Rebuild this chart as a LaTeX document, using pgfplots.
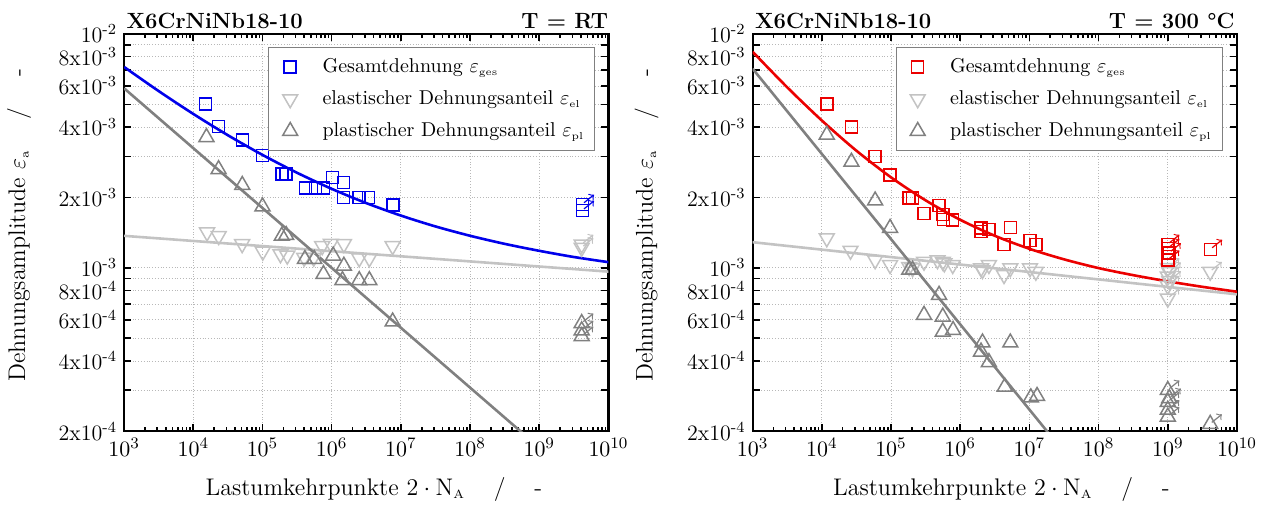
\documentclass[border=0pt]{standalone}
\usepackage{pgfplots}
\pgfplotsset{compat=1.18}

\definecolor{cblue}{RGB}{0,0,235}
\definecolor{cred}{RGB}{235,0,0}
\definecolor{clgray}{RGB}{195,195,195}
\definecolor{cdgray}{RGB}{128,128,128}

\pgfdeclareplotmark{runarrow}{%
  \pgfsetarrowsend{to}%
  \pgfpathmoveto{\pgfqpoint{0.8pt}{0.8pt}}%
  \pgfpathlineto{\pgfqpoint{5.8pt}{4.8pt}}%
  \pgfusepath{stroke}%
}

\tikzset{
  gesmark/.style={only marks, mark=square, mark size=3pt, mark options={line width=0.75pt, fill=none}},
  elmark/.style={only marks, mark=triangle, mark size=4.3pt, mark options={draw=clgray, line width=0.75pt, rotate=180, fill=none}},
  plmark/.style={only marks, mark=triangle, mark size=4.3pt, mark options={draw=cdgray, line width=0.75pt, fill=none}},
  runmark/.style={only marks, mark=runarrow, mark options={line width=0.6pt}},
}

\newcommand{\ylab}{Dehnungsamplitude $\varepsilon_{\scriptscriptstyle\mathrm{a}}$\hspace{1.3em}/\hspace{1.3em}-}
\newcommand{\xlab}{Lastumkehrpunkte $2\cdot\mathrm{N}_{\scriptscriptstyle\mathrm{A}}$\hspace{1.2em}/\hspace{1.2em}-}

\begin{document}
\begin{tikzpicture}
\useasboundingbox (-62pt,-39pt) rectangle (572pt,215.5pt);

% ---------------- left: T = RT ----------------
\begin{axis}[name=L, at={(0,0)}, anchor=south west,
    scale only axis, width=242pt, height=198.5pt,
    xmode=log, ymode=log, xmin=1e3, xmax=1e10, ymin=2e-4, ymax=1e-2,
    xtick={1e3,1e4,1e5,1e6,1e7,1e8,1e9,1e10},
    ytick={2e-4,3e-4,4e-4,5e-4,6e-4,7e-4,8e-4,9e-4,1e-3,2e-3,3e-3,4e-3,5e-3,6e-3,7e-3,8e-3,9e-3,1e-2},
    yticklabels={{2x10\textsuperscript{-4}},{},{4x10\textsuperscript{-4}},{},{6x10\textsuperscript{-4}},{},{8x10\textsuperscript{-4}},{},{10\textsuperscript{-3}},{2x10\textsuperscript{-3}},{},{4x10\textsuperscript{-3}},{},{6x10\textsuperscript{-3}},{},{8x10\textsuperscript{-3}},{},{10\textsuperscript{-2}}},
    grid=major, major grid style={densely dotted, line width=0.4pt, black!28},
    axis line style={line width=1.1pt},
    tick style={black, line width=0.8pt},
    major tick length=3.5pt, minor tick length=2pt,
    tick label style={font=\fontsize{11}{13}\selectfont},
    legend cell align=left,
    legend image code/.code={\path (0pt,0pt) (17pt,0pt); \draw[#1] plot coordinates {(8.5pt,0pt)};},
    legend style={at={(1,1)}, anchor=north east, xshift=-6.5pt, yshift=-6.5pt,
      draw=cdgray, line width=0.5pt, font=\fontsize{10}{12}\selectfont,
      inner xsep=2pt, inner ysep=1.75pt, row sep=0pt, column sep=4pt,
      nodes={inner xsep=3.4pt, inner ysep=2.25pt, text height=8.5pt, text depth=3pt}},
  ]
\addplot[gesmark, cblue] coordinates {
(1.5e4,5.02e-3) (2.3e4,4.02e-3) (5.1e4,3.52e-3) (1.0e5,3.02e-3) (1.9e5,2.52e-3)
(2.2e5,2.52e-3) (4.2e5,2.2e-3) (5.8e5,2.2e-3) (7.6e5,2.2e-3) (1.02e6,2.44e-3)
(1.48e6,2.32e-3) (1.48e6,2.0e-3) (2.5e6,2.0e-3) (3.4e6,2.0e-3) (7.7e6,1.86e-3)};
\addlegendentry{Gesamtdehnung $\varepsilon_{\scriptscriptstyle\mathrm{ges}}$}
\addplot[elmark, clgray] coordinates {
(1.58e4,1.42e-3) (2.33e4,1.37e-3) (5.08e4,1.265e-3) (1.01e5,1.175e-3) (1.82e5,1.145e-3)
(2.28e5,1.13e-3) (4.0e5,1.107e-3) (5.5e5,1.107e-3) (7.3e5,1.24e-3) (9.7e5,1.27e-3)
(1.5e6,1.265e-3) (2.5e6,1.10e-3) (3.5e6,1.10e-3) (7.6e6,1.24e-3)};
\addlegendentry{elastischer Dehnungsanteil $\varepsilon_{\scriptscriptstyle\mathrm{el}}$}
\addplot[plmark, cdgray] coordinates {
(1.55e4,3.62e-3) (2.32e4,2.64e-3) (5.1e4,2.26e-3) (1.0e5,1.83e-3) (1.9e5,1.37e-3)
(2.2e5,1.38e-3) (4.1e5,1.09e-3) (5.6e5,1.09e-3) (7.6e5,9.4e-4) (1.05e6,1.127e-3)
(1.5e6,1.02e-3) (1.43e6,8.85e-4) (2.5e6,8.85e-4) (3.5e6,8.85e-4) (7.6e6,5.89e-4)};
\addlegendentry{plastischer Dehnungsanteil $\varepsilon_{\scriptscriptstyle\mathrm{pl}}$}
% run-outs
\addplot[gesmark, cblue, forget plot] coordinates {(4.2e9,1.76e-3) (4.2e9,1.87e-3)};
\addplot[runmark, cblue, forget plot] coordinates {(4.2e9,1.76e-3) (4.2e9,1.87e-3)};
\addplot[elmark, clgray, forget plot] coordinates {(4.1e9,1.22e-3) (4.1e9,1.26e-3)};
\addplot[runmark, clgray, forget plot] coordinates {(4.1e9,1.22e-3) (4.1e9,1.26e-3)};
\addplot[plmark, cdgray, forget plot] coordinates {(4.1e9,5.8e-4) (4.1e9,5.4e-4) (4.1e9,5.1e-4)};
\addplot[runmark, cdgray, forget plot] coordinates {(4.1e9,5.8e-4) (4.1e9,5.4e-4) (4.1e9,5.1e-4)};
% fit lines
\addplot[clgray, line width=1.3pt, forget plot] coordinates {(1e3,1.371e-3) (1e10,9.638e-4)};
\addplot[cdgray, line width=1.3pt, forget plot] coordinates {(1e3,5.861e-3) (1e10,9.46e-5)};
\addplot[cblue, line width=1.3pt, smooth, forget plot] coordinates {
(1e3,7.232e-3) (3.162e3,5.702e-3) (1e4,4.554e-3) (3.162e4,3.692e-3) (1e5,3.042e-3)
(3.162e5,2.551e-3) (1e6,2.178e-3) (3.162e6,1.893e-3) (1e7,1.674e-3) (3.162e7,1.504e-3)
(1e8,1.372e-3) (3.162e8,1.267e-3) (1e9,1.183e-3) (3.162e9,1.113e-3) (1e10,1.058e-3)};
\end{axis}

% ---------------- right: T = 300 C ----------------
\begin{axis}[name=R, at={(314pt,0)}, anchor=south west,
    scale only axis, width=242pt, height=198.5pt,
    xmode=log, ymode=log, xmin=1e3, xmax=1e10, ymin=2e-4, ymax=1e-2,
    xtick={1e3,1e4,1e5,1e6,1e7,1e8,1e9,1e10},
    ytick={2e-4,3e-4,4e-4,5e-4,6e-4,7e-4,8e-4,9e-4,1e-3,2e-3,3e-3,4e-3,5e-3,6e-3,7e-3,8e-3,9e-3,1e-2},
    yticklabels={{2x10\textsuperscript{-4}},{},{4x10\textsuperscript{-4}},{},{6x10\textsuperscript{-4}},{},{8x10\textsuperscript{-4}},{},{10\textsuperscript{-3}},{2x10\textsuperscript{-3}},{},{4x10\textsuperscript{-3}},{},{6x10\textsuperscript{-3}},{},{8x10\textsuperscript{-3}},{},{10\textsuperscript{-2}}},
    grid=major, major grid style={densely dotted, line width=0.4pt, black!28},
    axis line style={line width=1.1pt},
    tick style={black, line width=0.8pt},
    major tick length=3.5pt, minor tick length=2pt,
    tick label style={font=\fontsize{11}{13}\selectfont},
    legend cell align=left,
    legend image code/.code={\path (0pt,0pt) (17pt,0pt); \draw[#1] plot coordinates {(8.5pt,0pt)};},
    legend style={at={(1,1)}, anchor=north east, xshift=-7pt, yshift=-6.5pt,
      draw=cdgray, line width=0.5pt, font=\fontsize{10}{12}\selectfont,
      inner xsep=2pt, inner ysep=1.75pt, row sep=0pt, column sep=4pt,
      nodes={inner xsep=3.4pt, inner ysep=2.25pt, text height=8.5pt, text depth=3pt}},
  ]
\addplot[gesmark, cred] coordinates {
(1.18e4,5.02e-3) (2.68e4,4.01e-3) (5.9e4,3.0e-3) (9.7e4,2.50e-3) (1.83e5,1.99e-3)
(2.05e5,1.99e-3) (3.0e5,1.71e-3) (4.9e5,1.85e-3) (5.6e5,1.69e-3) (5.7e5,1.61e-3)
(7.8e5,1.6e-3) (2.0e6,1.48e-3) (2.0e6,1.43e-3) (2.6e6,1.46e-3) (5.3e6,1.49e-3)
(4.3e6,1.26e-3) (1.02e7,1.31e-3) (1.24e7,1.26e-3)};
\addlegendentry{Gesamtdehnung $\varepsilon_{\scriptscriptstyle\mathrm{ges}}$}
\addplot[elmark, clgray] coordinates {
(1.18e4,1.34e-3) (2.6e4,1.186e-3) (5.9e4,1.08e-3) (9.7e4,1.03e-3) (1.83e5,1.01e-3)
(2.05e5,9.98e-4) (3.0e5,1.064e-3) (4.7e5,1.08e-3) (5.6e5,1.064e-3) (5.9e5,1.047e-3)
(7.8e5,1.03e-3) (2.0e6,9.98e-4) (2.1e6,9.8e-4) (2.6e6,1.03e-3) (4.3e6,9.33e-4)
(5.3e6,9.98e-4) (1.02e7,9.98e-4) (1.24e7,9.64e-4)};
\addlegendentry{elastischer Dehnungsanteil $\varepsilon_{\scriptscriptstyle\mathrm{el}}$}
\addplot[plmark, cdgray] coordinates {
(1.18e4,3.71e-3) (2.68e4,2.84e-3) (5.9e4,1.94e-3) (9.7e4,1.48e-3) (1.83e5,9.8e-4)
(2.05e5,9.8e-4) (4.95e5,7.66e-4) (3.0e5,6.29e-4) (5.6e5,6.18e-4) (5.6e5,5.33e-4)
(7.9e5,5.42e-4) (2.1e6,4.79e-4) (2.0e6,4.38e-4) (2.6e6,3.95e-4) (5.3e6,4.79e-4)
(4.4e6,3.1e-4) (1.05e7,2.79e-4) (1.29e7,2.83e-4)};
\addlegendentry{plastischer Dehnungsanteil $\varepsilon_{\scriptscriptstyle\mathrm{pl}}$}
% run-outs
\addplot[elmark, clgray, forget plot] coordinates {(1e9,1.0e-3) (1.05e9,9.6e-4) (1e9,9.2e-4) (1.05e9,8.8e-4) (1e9,8.4e-4) (1e9,7.4e-4) (4.1e9,9.64e-4)};
\addplot[runmark, clgray, forget plot] coordinates {(1e9,1.0e-3) (1.05e9,9.6e-4) (1e9,9.2e-4) (1.05e9,8.8e-4) (1e9,8.4e-4) (1e9,7.4e-4) (4.1e9,9.64e-4)};
\addplot[gesmark, cred, forget plot] coordinates {(1e9,1.26e-3) (1e9,1.21e-3) (1.05e9,1.16e-3) (1e9,1.08e-3) (4.15e9,1.2e-3)};
\addplot[runmark, cred, forget plot] coordinates {(1e9,1.26e-3) (1e9,1.21e-3) (1.05e9,1.16e-3) (1e9,1.08e-3) (4.15e9,1.2e-3)};
\addplot[plmark, cdgray, forget plot] coordinates {(1e9,3.0e-4) (1.05e9,2.77e-4) (1e9,2.67e-4) (1e9,2.47e-4) (1e9,2.31e-4) (4.1e9,2.15e-4)};
\addplot[runmark, cdgray, forget plot] coordinates {(1e9,3.0e-4) (1.05e9,2.77e-4) (1e9,2.67e-4) (1e9,2.47e-4) (1e9,2.31e-4) (4.1e9,2.15e-4)};
% fit lines
\addplot[clgray, line width=1.3pt, forget plot] coordinates {(1e3,1.288e-3) (1e10,7.709e-4)};
\addplot[cdgray, line width=1.3pt, forget plot] coordinates {(1e3,7.112e-3) (1e10,2.0e-5)};
\addplot[cred, line width=1.3pt, smooth, forget plot] coordinates {
(1e3,8.400e-3) (3.162e3,5.919e-3) (1e4,4.270e-3) (3.162e4,3.171e-3) (1e5,2.439e-3)
(3.162e5,1.945e-3) (1e6,1.606e-3) (3.162e6,1.372e-3) (1e7,1.207e-3) (3.162e7,1.088e-3)
(1e8,9.98e-4) (3.162e8,9.31e-4) (1e9,8.76e-4) (3.162e9,8.30e-4) (1e10,7.91e-4)};
\end{axis}

% titles
\node[anchor=base west, inner sep=0pt, font=\bfseries\fontsize{11}{13}\selectfont] at ([xshift=1pt,yshift=3pt]L.north west) {X6CrNiNb18-10};
\node[anchor=base east, inner sep=0pt, font=\bfseries\fontsize{11}{13}\selectfont] at ([yshift=3pt]L.north east) {T = RT};
\node[anchor=base west, inner sep=0pt, font=\bfseries\fontsize{11}{13}\selectfont] at ([xshift=1pt,yshift=3pt]R.north west) {X6CrNiNb18-10};
\node[anchor=base east, inner sep=0pt, font=\bfseries\fontsize{11}{13}\selectfont] at ([xshift=-1pt,yshift=3pt]R.north east) {T = 300 °C};

% axis labels
\node[anchor=base west, inner sep=0pt, font=\fontsize{12}{14}\selectfont] at ([xshift=40.5pt,yshift=-32pt]L.south west) {\xlab};
\node[anchor=base west, inner sep=0pt, font=\fontsize{12}{14}\selectfont] at ([xshift=40pt,yshift=-32pt]R.south west) {\xlab};
\node[anchor=base west, rotate=90, inner sep=0pt, font=\fontsize{12}{14}\selectfont] at ([xshift=-49.5pt,yshift=24.5pt]L.south west) {\ylab};
\node[anchor=base west, rotate=90, inner sep=0pt, font=\fontsize{12}{14}\selectfont] at ([xshift=-50pt,yshift=24.5pt]R.south west) {\ylab};
\end{tikzpicture}
\end{document}
